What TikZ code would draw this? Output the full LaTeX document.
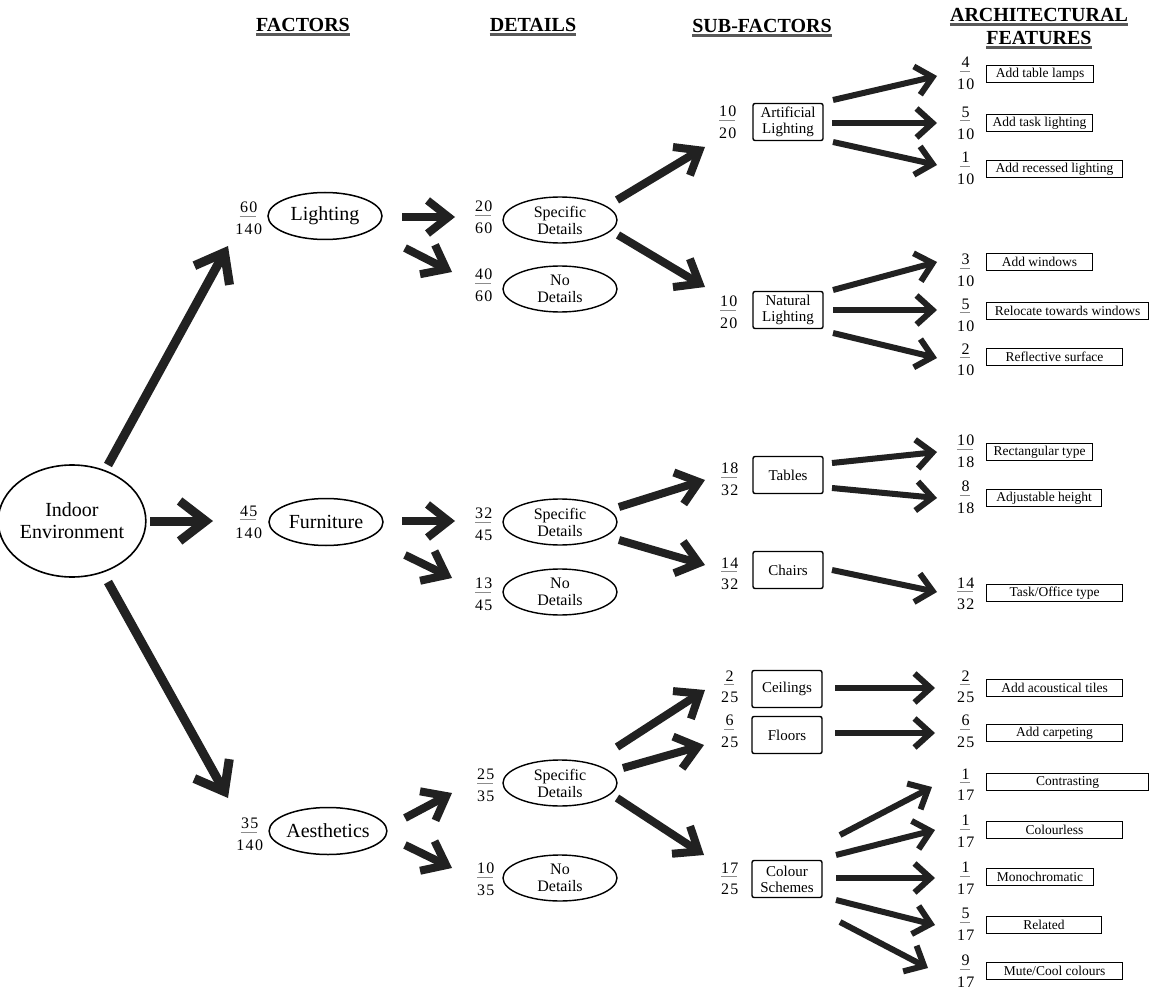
\documentclass[tikz,border=0pt]{standalone}
\usepackage{fontspec}
\setmainfont{Liberation Serif}
\newfontfamily\fracfont[LetterSpace=9]{Liberation Serif}
\usetikzlibrary{arrows.meta,shapes.geometric,calc}
\newsavebox\frnumbox
\newsavebox\frdenbox
\newlength\frbarlen
\definecolor{barc}{gray}{0.55}
\definecolor{ink}{gray}{0.13}
\newcommand\fr[2]{%
  \sbox\frnumbox{\fracfont #1\kern-0.09em}\sbox\frdenbox{\fracfont #2\kern-0.09em}%
  \setlength\frbarlen{0.65\wd\frdenbox}%
  \ifdim\wd\frnumbox>\frbarlen\setlength\frbarlen{\wd\frnumbox}\fi
  \vbox{\offinterlineskip\halign{\hfil##\hfil\cr
    \usebox\frnumbox\cr\noalign{\vskip3pt}
    {\color{barc}\rule{\frbarlen}{0.9pt}}\cr\noalign{\vskip7pt}
    \usebox\frdenbox\cr}}}
\newcommand\arr[5]{\draw[#1] ($(#2)+(#3)$) -- ($(#4)+(#5)$);}
\newcommand\ul[1]{\draw[uline] ([yshift=-3pt]#1.base west) -- ([yshift=-3pt]#1.base east);}
\tikzset{
  fac/.style={ellipse, draw, line width=1.5pt, minimum width=114pt, minimum height=47pt, inner sep=0pt, font=\fontsize{20}{22}\selectfont},
  det/.style={ellipse, draw, line width=1.4pt, minimum width=114pt, minimum height=46pt, inner sep=0pt, align=center, font=\fontsize{16}{17}\selectfont},
  sub/.style={rectangle, draw, line width=1.4pt, rounded corners=2pt, minimum width=70pt, minimum height=37pt, inner sep=0pt, align=center, font=\fontsize{15}{16}\selectfont},
  feat/.style={rectangle, draw, line width=1.1pt, minimum height=17pt, inner sep=0pt, anchor=west, font=\fontsize{13.5}{15}\selectfont},
  frac/.style={inner sep=0pt, font=\fontsize{16}{18}\selectfont},
  head/.style={inner sep=0pt, font=\bfseries\fontsize{20}{22}\selectfont},
  uline/.style={line width=2.4pt, black!65},
  bigarr/.style={draw=ink, line width=9pt, -{Straight Barb[length=26pt,width=40pt]}},
  medarr/.style={draw=ink, line width=8pt, -{Straight Barb[length=21pt,width=33pt]}},
  smlarr/.style={draw=ink, line width=6pt, -{Straight Barb[length=16pt,width=29pt]}},
}
\begin{document}
\begin{tikzpicture}[x=1pt,y=-1pt]
\fill[white] (0,0) rectangle (1149,995);
\useasboundingbox (0,0) rectangle (1149,995);

% headings
\node[head] (hF) at (303,25) {FACTORS};
\node[head] (hD) at (533,25) {DETAILS};
\node[head] (hS) at (762,26) {SUB-FACTORS};
\node[head] (hA1) at (1039,15) {ARCHITECTURAL};
\node[head] (hA2) at (1039,38) {FEATURES};
\ul{hF}\ul{hD}\ul{hS}\ul{hA1}\ul{hA2}

% root
\node[ellipse, draw, line width=1.6pt, minimum width=128pt, minimum height=112pt, inner sep=0pt, align=center, font=\fontsize{20}{22}\selectfont] (IE) at (72,521) {Indoor\\Environment};

% factors
\node[frac] (fL) at (248,218) {\fr{60}{140}};
\node[fac] (L) at (325,216) {Lighting};
\node[frac] (fF) at (248,522) {\fr{45}{140}};
\node[fac] (F) at (326,522) {Furniture};
\node[frac] (fA) at (249,834) {\fr{35}{140}};
\node[fac] (A) at (328,831) {Aesthetics};

% details
\node[frac] (fdL1) at (483,217) {\fr{20}{60}};
\node[det] (dL1) at (560,220) {Specific\\Details};
\node[frac] (fdL2) at (483,285) {\fr{40}{60}};
\node[det] (dL2) at (560,289) {No\\Details};
\node[frac] (fdF1) at (483,524) {\fr{32}{45}};
\node[det] (dF1) at (560,522) {Specific\\Details};
\node[frac] (fdF2) at (483,594) {\fr{13}{45}};
\node[det] (dF2) at (560,592) {No\\Details};
\node[frac] (fdA1) at (485,785) {\fr{25}{35}};
\node[det] (dA1) at (560,783) {Specific\\Details};
\node[frac] (fdA2) at (485,879) {\fr{10}{35}};
\node[det] (dA2) at (560,878) {No\\Details};

% sub-factors
\node[frac] (fsAL) at (727,122) {\fr{10}{20}};
\node[sub] (sAL) at (788,122) {Artificial\\Lighting};
\node[frac] (fsNL) at (728,312) {\fr{10}{20}};
\node[sub] (sNL) at (788,310) {Natural\\Lighting};
\node[frac] (fsT) at (729,479) {\fr{18}{32}};
\node[sub] (sT) at (788,475) {Tables};
\node[frac] (fsC) at (729,574) {\fr{14}{32}};
\node[sub] (sC) at (788,570) {Chairs};
\node[frac] (fsCe) at (729,687) {\fr{2}{25}};
\node[sub] (sCe) at (787,689) {Ceilings};
\node[frac] (fsFl) at (729,731) {\fr{6}{25}};
\node[sub] (sFl) at (787,735) {Floors};
\node[frac] (fsCS) at (729,879) {\fr{17}{25}};
\node[sub] (sCS) at (787,879) {Colour\\Schemes};

% features
\node[frac] (q1) at (965,73.5) {\fr{4}{10}};
\node[feat, minimum width=107pt] (r1) at (986,74) {Add table lamps};
\node[frac] (q2) at (965,123) {\fr{5}{10}};
\node[feat, minimum width=106pt] (r2) at (986,123) {Add task lighting};
\node[frac] (q3) at (965,168.5) {\fr{1}{10}};
\node[feat, minimum width=136pt] (r3) at (986,169) {Add recessed lighting};
\node[frac] (q4) at (965,270) {\fr{3}{10}};
\node[feat, minimum width=106pt] (r4) at (986,262) {Add windows};
\node[frac] (q5) at (965,315) {\fr{5}{10}};
\node[feat, minimum width=162pt] (r5) at (986,311) {Relocate towards windows};
\node[frac] (q6) at (965,360) {\fr{2}{10}};
\node[feat, minimum width=136pt] (r6) at (986,357) {Reflective surface};
\node[frac] (q7) at (965,451) {\fr{10}{18}};
\node[feat, minimum width=106pt] (r7) at (986,452) {Rectangular type};
\node[frac] (q8) at (965,497) {\fr{8}{18}};
\node[feat, minimum width=115pt] (r8) at (986,498) {Adjustable height};
\node[frac] (q9) at (965,594) {\fr{14}{32}};
\node[feat, minimum width=136pt] (r9) at (986,593) {Task/Office type};
\node[frac] (q10) at (965,687) {\fr{2}{25}};
\node[feat, minimum width=136pt] (r10) at (986,688) {Add acoustical tiles};
\node[frac] (q11) at (965,731.5) {\fr{6}{25}};
\node[feat, minimum width=136pt] (r11) at (986,733) {Add carpeting};
\node[frac] (q12) at (965,784.5) {\fr{1}{17}};
\node[feat, minimum width=162pt] (r12) at (986,782) {Contrasting};
\node[frac] (q13) at (965,831) {\fr{1}{17}};
\node[feat, minimum width=136pt] (r13) at (986,830) {Colourless};
\node[frac] (q14) at (965,878) {\fr{1}{17}};
\node[feat, minimum width=107pt] (r14) at (986,877) {Monochromatic};
\node[frac] (q15) at (965,924.5) {\fr{5}{17}};
\node[feat, minimum width=115pt] (r15) at (986,925) {Related};
\node[frac] (q16) at (965,971) {\fr{9}{17}};
\node[feat, minimum width=136pt] (r16) at (986,971) {Mute/Cool colours};

% arrows
\arr{bigarr}{IE}{36,-56}{fL}{-20,28}
\arr{bigarr}{IE}{78,0}{fF}{-35,-1}
\arr{bigarr}{IE}{36,61}{fA}{-21,-36}

\arr{medarr}{L}{77,1}{fdL1}{-28,0}
\arr{medarr}{L}{80,32}{fdL2}{-31,-13}
\arr{medarr}{F}{76,-1}{fdF1}{-28,-3}
\arr{medarr}{F}{79,33}{fdF2}{-31,-16}
\arr{medarr}{A}{77,-13}{fdA1}{-33,8}
\arr{medarr}{A}{77,14}{fdA2}{-33,-11}

\arr{medarr}{dL1}{57,-20}{fsAL}{-22,25}
\arr{medarr}{dL1}{58,15}{fsNL}{-23,-25}
\arr{medarr}{dF1}{59,-15}{fsT}{-24,1}
\arr{medarr}{dF1}{59,18}{fsC}{-24,-9}
\arr{medarr}{dA1}{57,-36}{fsCe}{-24,3}
\arr{medarr}{dA1}{63,-15}{fsFl}{-25,14}
\arr{medarr}{dA1}{57,15}{fsCS}{-25,-24}

\arr{smlarr}{sAL}{45,-22}{q1}{-28,2.5}
\arr{smlarr}{sAL}{44,1}{q2}{-28,0}
\arr{smlarr}{sAL}{45,20}{q3}{-28,-3.5}
\arr{smlarr}{sNL}{45,-20}{q4}{-28,-8}
\arr{smlarr}{sNL}{45,0}{q5}{-28,-5}
\arr{smlarr}{sNL}{45,23}{q6}{-28,-2}
\arr{smlarr}{sT}{44,-12}{q7}{-28,1}
\arr{smlarr}{sT}{44,13}{q8}{-28,1}
\arr{smlarr}{sC}{44,0}{q9}{-28,-2}
\arr{smlarr}{sCe}{48,-1}{q10}{-30,1}
\arr{smlarr}{sFl}{48,-2}{q11}{-30,1.5}
\arr{smlarr}{sCS}{53,-44}{q12}{-33,2.5}
\arr{smlarr}{sCS}{49,-24}{q13}{-30,-1}
\arr{smlarr}{sCS}{49,-1}{q14}{-30,0}
\arr{smlarr}{sCS}{49,21}{q15}{-30,0.5}
\arr{smlarr}{sCS}{53,43}{q16}{-37,-3}
\end{tikzpicture}
\end{document}
